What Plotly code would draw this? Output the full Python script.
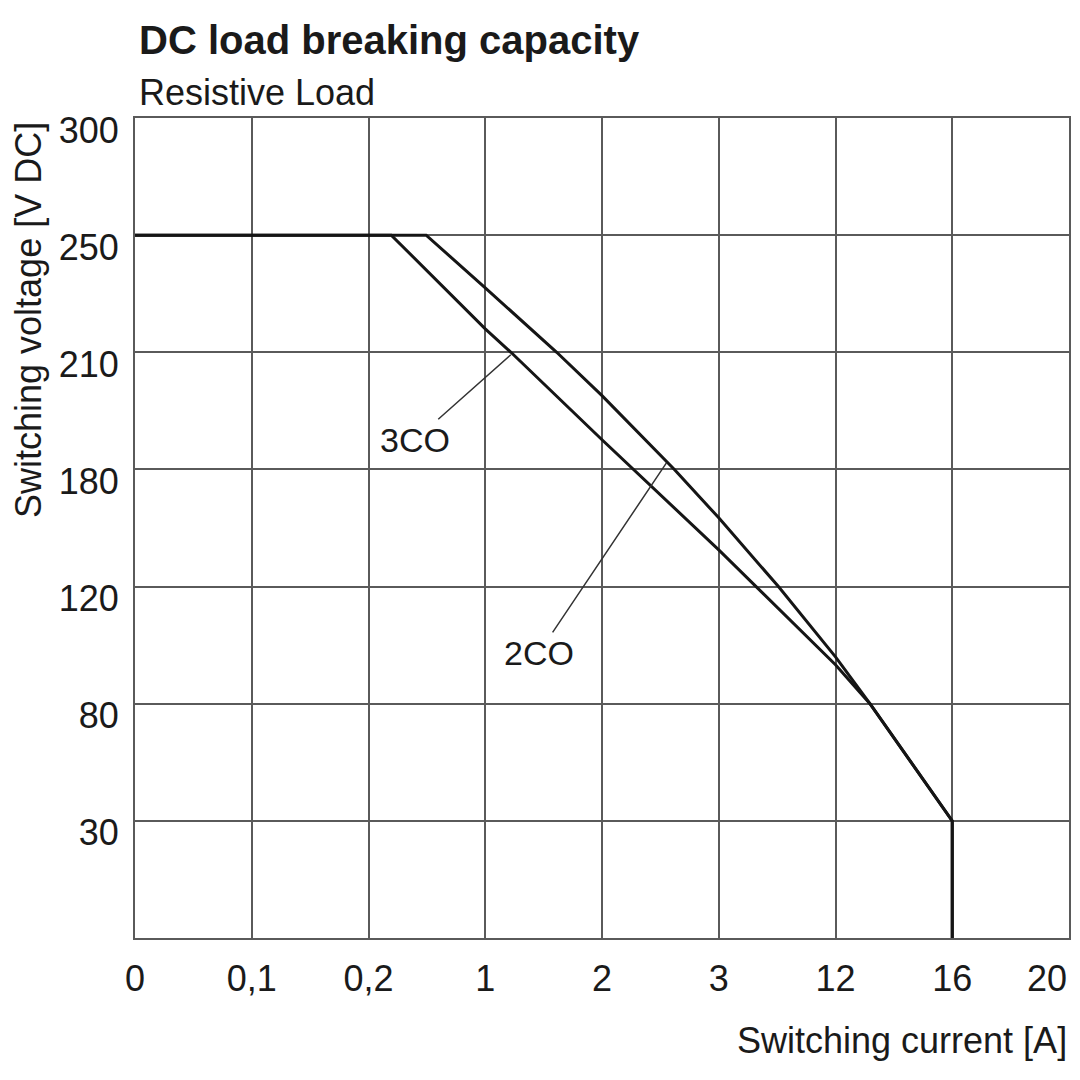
import numpy as np
import plotly.graph_objects as go

# Axis tick values (non-linear, equally spaced on the chart)
x_ticks = [0, 0.1, 0.2, 1, 2, 3, 12, 16, 20]
x_tick_text = ["0", "0,1", "0,2", "1", "2", "3", "12", "16", "20"]
y_ticks = [0, 30, 80, 120, 180, 210, 250, 300]
y_tick_text = ["", "30", "80", "120", "180", "210", "250", "300"]

# 2CO curve (switching current [A], switching voltage [V DC])
co2_current = [0, 0.595, 1.0, 1.612, 2.0, 2.62, 3.0, 7.6, 12.0, 13.18, 16, 16]
co2_voltage = [250, 250, 232.0, 210, 198.9, 180, 155.2, 120, 96.0, 80, 30, 0]

# 3CO curve
co3_current = [0, 0.356, 1.0, 1.22, 2.0, 2.27, 3.0, 5.88, 12.0, 13.18, 16, 16]
co3_voltage = [250, 250, 218.0, 210, 187.6, 180, 138.8, 120, 93.3, 80, 30, 0]


def to_x(v):
    return np.interp(v, x_ticks, np.arange(len(x_ticks)))


def to_y(v):
    return np.interp(v, y_ticks, np.arange(len(y_ticks)))


FONT = "Liberation Sans, Arial, sans-serif"
TXT = "#1a1a1a"
LINE = "#151515"
GRID = "#5a5a5a"

fig = go.Figure()
fig.add_trace(go.Scatter(x=to_x(co3_current), y=to_y(co3_voltage), mode="lines",
                         line=dict(color=LINE, width=3), name="3CO", showlegend=False))
fig.add_trace(go.Scatter(x=to_x(co2_current), y=to_y(co2_voltage), mode="lines",
                         line=dict(color=LINE, width=3), name="2CO", showlegend=False))

x_text_shown = x_tick_text[:-1] + [""]

fig.update_layout(
    width=1064, height=1064,
    margin=dict(l=127, r=1, t=110, b=134),
    paper_bgcolor="white", plot_bgcolor="white",
    font=dict(family=FONT, color=TXT, size=36),
    xaxis=dict(range=[0, len(x_ticks) - 1], tickvals=list(range(len(x_ticks))),
               ticktext=x_text_shown, showgrid=True, gridcolor=GRID, gridwidth=2,
               showline=True, linecolor=GRID, linewidth=2, mirror=True,
               zeroline=False, ticks="", ticklen=0, fixedrange=True,
               ticklabelstandoff=8,
               tickfont=dict(size=36, family=FONT, color=TXT)),
    yaxis=dict(range=[0, len(y_ticks) - 1], tickvals=list(range(len(y_ticks))),
               ticktext=y_tick_text, showgrid=True, gridcolor=GRID, gridwidth=2,
               showline=True, linecolor=GRID, linewidth=2, mirror=True,
               zeroline=False, ticks="", ticklen=0, fixedrange=True,
               ticklabelshift=12, ticklabelstandoff=7,
               tickfont=dict(size=36, family=FONT, color=TXT)),
    annotations=[
        dict(text="<b>DC load breaking capacity</b>", xref="paper", yref="paper",
             x=0, xshift=2, y=1.0, yshift=78, xanchor="left", yanchor="middle",
             showarrow=False, font=dict(size=40, family=FONT, color=TXT)),
        dict(text="Resistive Load", xref="paper", yref="paper",
             x=0, xshift=2, y=1.0, yshift=26, xanchor="left", yanchor="middle",
             showarrow=False, font=dict(size=36, family=FONT, color=TXT)),
        dict(text="Switching current [A]", xref="paper", yref="paper",
             x=1.0, y=0, yshift=-102, xanchor="right", yanchor="middle",
             showarrow=False, font=dict(size=36, family=FONT, color=TXT)),
        dict(text="Switching voltage [V DC]", xref="paper", yref="paper",
             x=0, xshift=-107, y=1.0, yshift=-2, xanchor="center", yanchor="top",
             textangle=-90, showarrow=False,
             font=dict(size=36, family=FONT, color=TXT)),
        dict(text=x_tick_text[-1], xref="paper", yref="paper",
             x=1.0, xshift=0, y=0, yshift=-40,
             xanchor="right", yanchor="middle", showarrow=False,
             font=dict(size=36, family=FONT, color=TXT)),
        dict(text="3CO", x=3.219, y=4.979, ax=2.40, ay=4.253, axref="x", ayref="y",
             xref="x", yref="y", showarrow=True, arrowhead=0, arrowwidth=1.5,
             arrowcolor="#333", standoff=0, startstandoff=0,
             font=dict(size=34, family=FONT, color=TXT)),
        dict(text="2CO", x=4.552, y=4.056, ax=3.459, ay=2.434, axref="x", ayref="y",
             xref="x", yref="y", showarrow=True, arrowhead=0, arrowwidth=1.5,
             arrowcolor="#333", standoff=0, startstandoff=0,
             font=dict(size=34, family=FONT, color=TXT)),
    ],
)

fig.write_html("out.html")
